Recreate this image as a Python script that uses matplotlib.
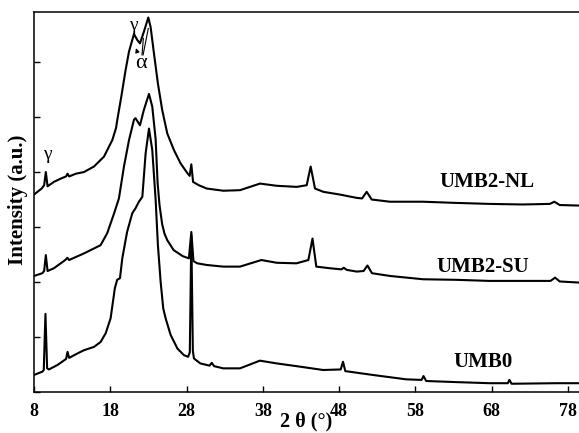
import matplotlib
matplotlib.use("Agg")
import matplotlib.pyplot as plt

# ---- data (2-theta in degrees, intensity in arbitrary offset units) ----
tt_nl = [8.0, 9.0, 9.33, 9.55, 9.78, 10.6, 11.5, 12.2, 12.4, 12.6, 13.5, 14.55, 15.86, 17.17,
         18.26, 18.75, 18.92, 19.44, 20.0, 20.45, 21.1, 21.54, 21.89, 22.4, 22.98, 23.28, 23.72,
         24.24, 24.8, 25.47, 26.34, 27.2, 28.1, 28.4, 28.62, 28.85, 29.6, 30.63, 32.81, 35.0,
         37.62, 39.8, 42.43, 43.74, 44.26, 44.83, 45.92, 48.1, 50.29, 51.0, 51.6, 52.26, 54.66,
         59.0, 63.0, 67.8, 72.0, 75.6, 76.2, 76.9, 79.43]
i_nl = [3.59, 3.70, 3.76, 4.00, 3.74, 3.82, 3.88, 3.92, 3.97, 3.92, 3.97, 4.00, 4.10, 4.28,
        4.58, 4.80, 4.95, 5.37, 5.85, 6.19, 6.51, 6.40, 6.34, 6.55, 6.81, 6.64, 6.16,
        5.61, 5.13, 4.70, 4.40, 4.16, 3.98, 3.93, 4.14, 3.82, 3.76, 3.70, 3.66, 3.67,
        3.79, 3.75, 3.73, 3.76, 4.10, 3.70, 3.64, 3.59, 3.53, 3.52, 3.64, 3.50, 3.46,
        3.46, 3.44, 3.42, 3.41, 3.42, 3.46, 3.40, 3.39]

tt_su = [8.0, 9.09, 9.33, 9.55, 9.78, 10.6, 12.1, 12.37, 12.6, 14.55, 16.73, 17.6, 18.5, 19.13,
         19.79, 20.45, 21.1, 21.3, 21.89, 22.4, 23.07, 23.5, 23.94, 24.2, 24.45, 24.8, 25.1,
         25.47, 26.3, 27.5, 28.3, 28.62, 28.9, 29.4, 30.63, 32.8, 35.0, 37.8, 39.8, 42.4, 43.96,
         44.5, 45.0, 46.8, 48.3, 48.6, 49.0, 50.3, 51.2, 51.7, 52.3, 54.66, 59.0, 63.3, 67.7,
         72.1, 75.7, 76.3, 76.9, 79.43]
i_su = [2.11, 2.16, 2.20, 2.49, 2.20, 2.25, 2.40, 2.44, 2.40, 2.52, 2.67, 2.89, 3.25, 3.52,
        4.10, 4.58, 4.95, 4.98, 4.85, 5.13, 5.42, 5.19, 4.60, 3.80, 3.40, 3.05, 2.88,
        2.76, 2.58, 2.47, 2.43, 2.91, 2.38, 2.34, 2.31, 2.28, 2.28, 2.40, 2.35, 2.34, 2.40,
        2.79, 2.28, 2.25, 2.23, 2.26, 2.22, 2.19, 2.20, 2.30, 2.16, 2.11, 2.05, 2.04, 2.02,
        2.02, 2.02, 2.08, 2.01, 1.99]

tt_0 = [8.0, 9.1, 9.28, 9.5, 9.72, 9.96, 11.06, 12.2, 12.4, 12.6, 13.68, 14.55, 15.86, 16.73,
        17.4, 18.04, 18.6, 18.9, 19.27, 19.57, 20.2, 20.88, 21.3, 21.75, 22.2, 22.63, 23.07,
        23.5, 23.94, 24.24, 24.6, 24.94, 25.25, 25.9, 26.8, 27.65, 28.2, 28.42, 28.62, 28.82,
        28.96, 29.8, 31.0, 31.3, 31.6, 32.8, 35.0, 37.6, 39.8, 42.4, 45.9, 48.2, 48.5, 48.8,
        52.4, 56.8, 58.8, 59.05, 59.4, 63.3, 67.7, 70.1, 70.3, 70.6, 76.4, 79.43]
i_0 = [0.31, 0.37, 0.40, 1.42, 0.43, 0.41, 0.49, 0.60, 0.73, 0.62, 0.70, 0.76, 0.82, 0.91,
       1.07, 1.34, 1.89, 2.04, 2.07, 2.43, 2.91, 3.25, 3.34, 3.46, 3.55, 4.34, 4.79,
       4.40, 3.50, 2.67, 2.00, 1.52, 1.34, 1.04, 0.79, 0.67, 0.64, 0.72, 2.85, 0.75,
       0.61, 0.52, 0.48, 0.53, 0.47, 0.43, 0.43, 0.57, 0.52, 0.47, 0.40, 0.41, 0.55, 0.38,
       0.31, 0.23, 0.22, 0.29, 0.20, 0.18, 0.16, 0.16, 0.22, 0.15, 0.16, 0.16]

series_labels = ["UMB2-NL", "UMB2-SU", "UMB0"]
x_ticks = [8, 18, 28, 38, 48, 58, 68, 78]

serif = ["Liberation Serif", "DejaVu Serif"]

fig = plt.figure(figsize=(5.79, 4.33), dpi=100)
ax = fig.add_axes([34 / 579, 41 / 433, 545 / 579, 380 / 433])

for tt, ii in [(tt_nl, i_nl), (tt_su, i_su), (tt_0, i_0)]:
    ax.plot(tt, ii, color="black", lw=1.5, solid_joinstyle="round")

ax.set_xlim(8, 79.43)
ax.set_ylim(0, 6.91)
ax.set_xticks(x_ticks)
ax.set_xticklabels([str(t) for t in x_ticks], fontfamily=serif, fontweight="bold", fontsize=13)
ax.set_yticks([0, 1, 2, 3, 4, 5, 6])
ax.set_yticklabels([])
ax.tick_params(direction="in", length=4, width=1.0, pad=8, colors="black")
ax.spines["right"].set_visible(False)
for s in ["left", "bottom", "top"]:
    ax.spines[s].set_linewidth(1.1)

# sample labels
ax.text(67.4, 3.82, series_labels[0], ha="center", va="center", fontsize=15,
        fontweight="bold", fontfamily=serif)
ax.text(66.85, 2.27, series_labels[1], ha="center", va="center", fontsize=15,
        fontweight="bold", fontfamily=serif)
ax.text(66.85, 0.545, series_labels[2], ha="center", va="center", fontsize=15,
        fontweight="bold", fontfamily=serif)

# phase annotations
ax.text(9.7, 4.31, "γ", ha="center", va="center", fontsize=14, fontfamily=serif)
ax.text(20.97, 6.67, "γ", ha="center", va="center", fontsize=14, fontfamily=serif)
ax.text(22.06, 5.98, "α", ha="center", va="center", fontsize=16, fontfamily=serif)
ax.annotate("", xy=(21.24, 6.30), xytext=(21.63, 6.14),
            arrowprops=dict(arrowstyle="-|>", color="black", lw=0.8, mutation_scale=6))
ax.plot([22.16, 22.33], [6.13, 6.43], color="black", lw=0.8)
ax.plot([22.30, 22.98], [6.13, 6.61], color="black", lw=0.8)

fig.text(306 / 579, 1.5 / 433, "2 θ (°)", ha="center", va="bottom", fontsize=14.5,
         fontweight="bold", fontfamily=serif)
fig.text(18 / 579, 1 - 200 / 433, "Intensity (a.u.)", ha="center", va="center", rotation=90,
         fontsize=15, fontweight="bold", fontfamily=serif)

fig.savefig("out.png", dpi=100)
